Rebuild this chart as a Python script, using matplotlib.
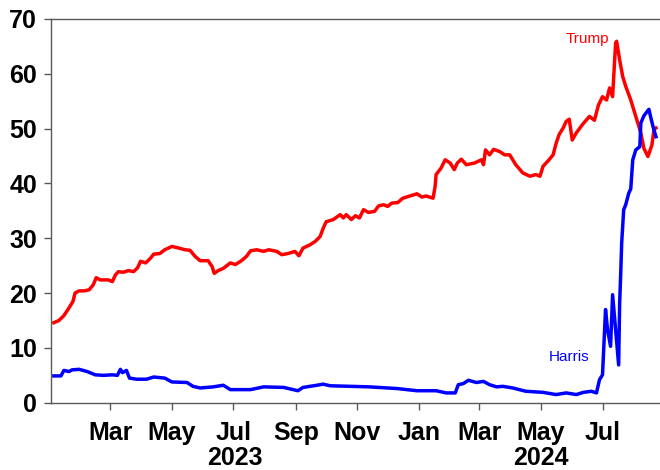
import matplotlib
matplotlib.use("Agg")
import matplotlib.pyplot as plt
import matplotlib.transforms as mtransforms
import pandas as pd

plt.rcParams['font.family'] = ['Liberation Sans', 'DejaVu Sans']

# ── Data (betting odds, %) ───────────────────────────────────────────────────
trump_dates = [
    '2023-01-04', '2023-01-09', '2023-01-14', '2023-01-19', '2023-01-23', '2023-01-25',
    '2023-01-29', '2023-02-03', '2023-02-08', '2023-02-12', '2023-02-15', '2023-02-19',
    '2023-02-27', '2023-03-03', '2023-03-06', '2023-03-09', '2023-03-14', '2023-03-19',
    '2023-03-24', '2023-03-28', '2023-03-31', '2023-04-05', '2023-04-10', '2023-04-13',
    '2023-04-19', '2023-04-24', '2023-05-01', '2023-05-08', '2023-05-14', '2023-05-19',
    '2023-05-24', '2023-05-29', '2023-06-06', '2023-06-10', '2023-06-12', '2023-06-16',
    '2023-06-21', '2023-06-28', '2023-07-03', '2023-07-09', '2023-07-14', '2023-07-18',
    '2023-07-24', '2023-07-31', '2023-08-05', '2023-08-13', '2023-08-18', '2023-08-24',
    '2023-08-31', '2023-09-04', '2023-09-08', '2023-09-15', '2023-09-20', '2023-09-25',
    '2023-09-28', '2023-10-01', '2023-10-08', '2023-10-15', '2023-10-18', '2023-10-21',
    '2023-10-26', '2023-10-30', '2023-11-03', '2023-11-07', '2023-11-12', '2023-11-18',
    '2023-11-22', '2023-11-27', '2023-12-01', '2023-12-05', '2023-12-11', '2023-12-16',
    '2023-12-23', '2023-12-30', '2024-01-04', '2024-01-08', '2024-01-15', '2024-01-17',
    '2024-01-18', '2024-01-23', '2024-01-27', '2024-02-01', '2024-02-05', '2024-02-08',
    '2024-02-12', '2024-02-17', '2024-02-25', '2024-03-03', '2024-03-05', '2024-03-07',
    '2024-03-11', '2024-03-15', '2024-03-21', '2024-03-26', '2024-03-31', '2024-04-06',
    '2024-04-13', '2024-04-20', '2024-04-26', '2024-04-30', '2024-05-03', '2024-05-09',
    '2024-05-13', '2024-05-16', '2024-05-19', '2024-05-23', '2024-05-26', '2024-05-29',
    '2024-06-01', '2024-06-05', '2024-06-11', '2024-06-18', '2024-06-23', '2024-06-27',
    '2024-07-01', '2024-07-05', '2024-07-08', '2024-07-11', '2024-07-14', '2024-07-15',
    '2024-07-18', '2024-07-21', '2024-07-24', '2024-07-29', '2024-08-02', '2024-08-05',
    '2024-08-08', '2024-08-11', '2024-08-15', '2024-08-19', '2024-08-21', '2024-08-23',
]
trump_odds = [
    14.6, 15.0, 15.9, 17.3, 18.5, 20.0,
    20.4, 20.4, 20.6, 21.5, 22.8, 22.4,
    22.4, 22.1, 23.3, 23.9, 23.8, 24.1,
    23.9, 24.6, 25.8, 25.5, 26.4, 27.1,
    27.2, 27.9, 28.5, 28.2, 27.9, 27.8,
    26.7, 25.9, 25.9, 24.8, 23.6, 24.1,
    24.5, 25.5, 25.2, 25.9, 26.7, 27.7,
    27.9, 27.6, 27.9, 27.6, 27.0, 27.2,
    27.6, 26.8, 28.2, 28.8, 29.4, 30.3,
    31.8, 33.0, 33.4, 34.3, 33.7, 34.3,
    33.4, 34.1, 33.7, 35.2, 34.7, 34.9,
    35.9, 36.1, 35.8, 36.4, 36.5, 37.3,
    37.7, 38.1, 37.5, 37.7, 37.3, 39.4,
    41.6, 42.8, 44.3, 43.7, 42.5, 43.7,
    44.4, 43.4, 43.7, 44.3, 43.4, 46.1,
    45.2, 46.2, 45.8, 45.2, 45.2, 43.4,
    41.9, 41.3, 41.6, 41.3, 43.1, 44.3,
    45.2, 47.3, 48.9, 50.1, 51.3, 51.7,
    47.9, 49.2, 50.7, 52.2, 51.5, 54.3,
    55.8, 55.2, 57.4, 55.8, 65.6, 65.9,
    62.5, 59.5, 57.7, 55.2, 52.8, 51.0,
    49.2, 46.4, 44.9, 47.0, 49.8, 50.1,
]

harris_dates = [
    '2023-01-04', '2023-01-11', '2023-01-14', '2023-01-19', '2023-01-22', '2023-01-29',
    '2023-02-06', '2023-02-14', '2023-02-22', '2023-03-03', '2023-03-08', '2023-03-11',
    '2023-03-13', '2023-03-17', '2023-03-20', '2023-03-27', '2023-04-06', '2023-04-13',
    '2023-04-24', '2023-05-01', '2023-05-16', '2023-05-22', '2023-05-29', '2023-06-11',
    '2023-06-21', '2023-06-28', '2023-07-18', '2023-07-31', '2023-08-20', '2023-09-03',
    '2023-09-08', '2023-09-22', '2023-09-28', '2023-10-05', '2023-10-25', '2023-11-13',
    '2023-12-10', '2023-12-30', '2024-01-18', '2024-01-28', '2024-02-06', '2024-02-09',
    '2024-02-14', '2024-02-19', '2024-02-27', '2024-03-05', '2024-03-11', '2024-03-18',
    '2024-03-24', '2024-04-03', '2024-04-16', '2024-05-03', '2024-05-16', '2024-05-26',
    '2024-06-05', '2024-06-12', '2024-06-20', '2024-06-25', '2024-06-28', '2024-07-01',
    '2024-07-04', '2024-07-06', '2024-07-09', '2024-07-11', '2024-07-14', '2024-07-17',
    '2024-07-18', '2024-07-19', '2024-07-20', '2024-07-22', '2024-07-24', '2024-07-27',
    '2024-07-29', '2024-07-31', '2024-08-03', '2024-08-07', '2024-08-08', '2024-08-11',
    '2024-08-13', '2024-08-16', '2024-08-18', '2024-08-20', '2024-08-23',
]
harris_odds = [
    4.9, 4.9, 5.9, 5.7, 6.0, 6.1,
    5.7, 5.1, 5.0, 5.1, 5.0, 6.1,
    5.5, 5.9, 4.5, 4.3, 4.3, 4.7,
    4.5, 3.8, 3.7, 3.0, 2.7, 2.9,
    3.2, 2.4, 2.4, 2.9, 2.8, 2.2,
    2.8, 3.2, 3.4, 3.1, 3.0, 2.9,
    2.6, 2.2, 2.2, 1.8, 1.8, 3.3,
    3.5, 4.1, 3.7, 3.9, 3.3, 2.9,
    3.0, 2.7, 2.1, 1.9, 1.5, 1.8,
    1.5, 1.9, 2.1, 1.8, 4.2, 5.1,
    17.0, 13.3, 10.3, 19.7, 13.3, 6.9,
    18.2, 23.3, 29.1, 35.2, 36.1, 38.2,
    39.0, 44.3, 46.1, 46.7, 51.0, 52.3,
    52.8, 53.5, 51.9, 50.4, 48.5,
]

month_ticks  = ['2023-03-01', '2023-05-01', '2023-07-01', '2023-09-01', '2023-11-01',
                '2024-01-01', '2024-03-01', '2024-05-01', '2024-07-01']
month_labels = ['Mar', 'May', 'Jul', 'Sep', 'Nov', 'Jan', 'Mar', 'May', 'Jul']
year_labels  = ['2023', '2024']
year_pos     = ['2023-07-02', '2024-05-01']

# ── Plot ─────────────────────────────────────────────────────────────────────
fig = plt.figure(figsize=(6.6, 4.7), dpi=100)
ax = fig.add_axes([0.077, 0.143, 0.923, 0.817])

ax.plot(pd.to_datetime(trump_dates), trump_odds, color='#FF0000', lw=2.5)
ax.plot(pd.to_datetime(harris_dates), harris_odds, color='#0000FF', lw=2.5)

ax.set_xlim(pd.Timestamp('2023-01-01'), pd.Timestamp('2024-08-27'))
ax.set_ylim(0, 70)
ax.set_yticks(range(0, 71, 10))

ax.set_xticks(pd.to_datetime(month_ticks))
ax.set_xticklabels(month_labels)

for side in ['left', 'bottom', 'top']:
    ax.spines[side].set_color('#595959')
    ax.spines[side].set_linewidth(1.0)
ax.spines['right'].set_visible(False)

ax.tick_params(axis='both', colors='#595959', labelcolor='black',
               labelsize=18, length=5, width=1)
ax.tick_params(axis='y', pad=5)
ax.tick_params(axis='x', pad=8)
for lbl in ax.get_xticklabels() + ax.get_yticklabels():
    lbl.set_fontweight('bold')

trans = mtransforms.blended_transform_factory(ax.transData, ax.transAxes)
for lbl, pos in zip(year_labels, year_pos):
    ax.text(pd.Timestamp(pos), -0.145, lbl, transform=trans, ha='center',
            va='center', fontsize=18, fontweight='bold')

ax.text(pd.Timestamp('2024-07-08'), 66.3, 'Trump', color='#FF0000',
        fontsize=11, ha='right', va='center')
ax.text(pd.Timestamp('2024-06-18'), 8.3, 'Harris', color='#0000FF',
        fontsize=11, ha='right', va='center')

fig.savefig('out.png', dpi=100)
